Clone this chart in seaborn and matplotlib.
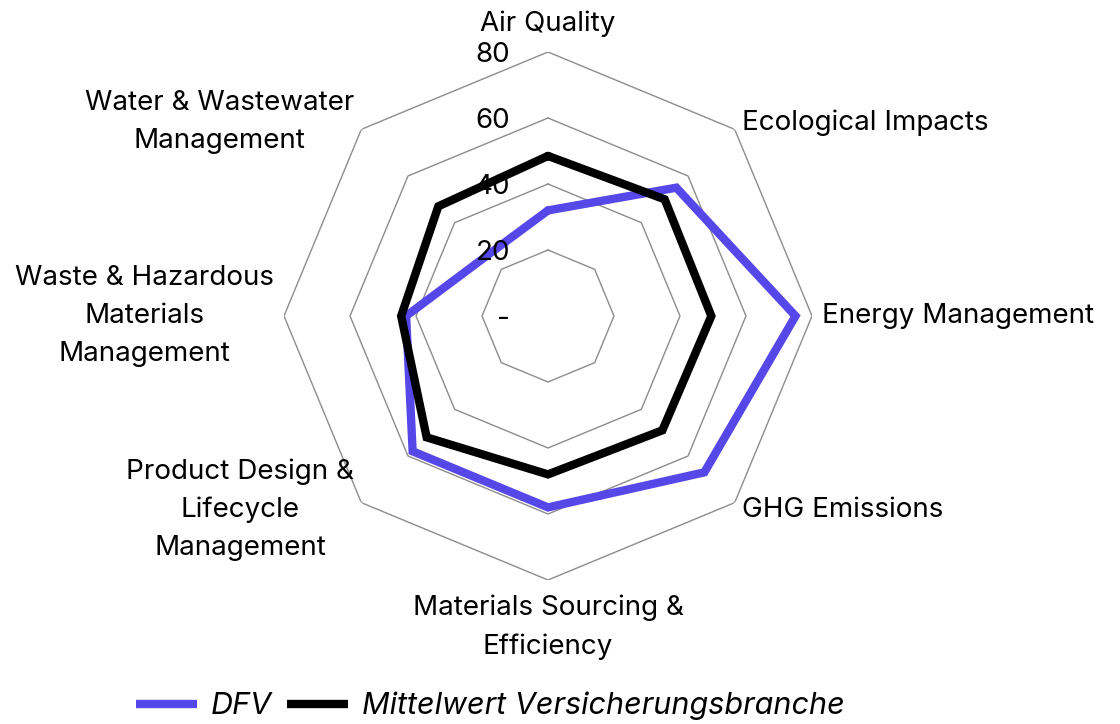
import numpy as np
import pandas as pd
import seaborn as sns
import matplotlib
matplotlib.use("Agg")
import matplotlib.pyplot as plt
from matplotlib.lines import Line2D
from matplotlib.transforms import ScaledTranslation

categories = ["Air Quality", "Ecological Impacts", "Energy Management", "GHG Emissions",
              "Materials Sourcing &\nEfficiency", "Product Design &\nLifecycle\nManagement",
              "Waste & Hazardous\nMaterials\nManagement", "Water & Wastewater\nManagement"]
dfv = [32, 55, 75, 67, 58, 58, 43, 26]
mittelwert = [48.5, 50, 49.5, 49, 48, 52, 44.5, 47]
series_names = ["DFV", "Mittelwert Versicherungsbranche"]
ring_values = [20, 40, 60, 80]
tick_values = [0, 20, 40, 60, 80]
tick_labels = ["-", "20", "40", "60", "80"]

BLUE = "#5647E8"
BLACK = "#000000"

sns.set_theme(style="white")
plt.rcParams["font.family"] = ["Inter", "DejaVu Sans"]
plt.rcParams["text.color"] = "black"

n = len(categories)
angles = np.linspace(0, 2 * np.pi, n, endpoint=False)
angles_closed = np.append(angles, 2 * np.pi)

rows = []
for name, vals in zip(series_names, [dfv, mittelwert]):
    for a, v in zip(angles_closed, vals + vals[:1]):
        rows.append({"angle": a, "value": v, "series": name})
df = pd.DataFrame(rows)

fig = plt.figure(figsize=(11.2, 7.24), dpi=100)
R = 264
cx, cy = 548, 724 - 316
ax = fig.add_axes([(cx - R) / 1120, (cy - R) / 724, 2 * R / 1120, 2 * R / 724], projection="polar")
ax.set_theta_offset(np.pi / 2)
ax.set_theta_direction(-1)
ax.grid(False)
ax.spines["polar"].set_visible(False)
ax.set_xticks([])
ax.set_yticks([])
ax.patch.set_alpha(0)

for r in ring_values:
    ax.plot(angles_closed, [r] * len(angles_closed), color="#8c8c8c", lw=1, zorder=1)

sns.lineplot(data=df, x="angle", y="value", hue="series", hue_order=series_names,
             palette=[BLUE, BLACK], sort=False, estimator=None, linewidth=6,
             legend=False, ax=ax, solid_joinstyle="miter", zorder=3)
ax.set_ylim(0, 80)
ax.set_xlabel("")
ax.set_ylabel("")

FS = 20
LS = 1.6
for a, lab in zip(angles, categories):
    deg = np.degrees(a) % 360
    if np.isclose(deg, 0):
        ax.text(a, 84.5, lab, ha="center", va="bottom", fontsize=FS, clip_on=False)
    elif np.isclose(deg, 180):
        ax.text(a, 84.5, lab, ha="center", va="top", fontsize=FS, clip_on=False,
                multialignment="center", linespacing=LS)
    elif deg < 180:
        ax.text(a, 83, lab, ha="left", va="center", fontsize=FS, clip_on=False,
                multialignment="center", linespacing=LS)
    else:
        ax.text(a, 83, lab, ha="right", va="center", fontsize=FS, clip_on=False,
                multialignment="center", linespacing=LS)

off = ax.transData + ScaledTranslation(-38 / 100, -3 / 100, fig.dpi_scale_trans)
for v, t in zip(tick_values, tick_labels):
    ax.text(0, v, t, ha="right", va="center", fontsize=FS, transform=off, clip_on=False)

handles = [Line2D([], [], color=BLUE, lw=6, solid_capstyle="butt"),
           Line2D([], [], color=BLACK, lw=6, solid_capstyle="butt")]
fig.legend(handles=handles, labels=series_names, loc="center",
           bbox_to_anchor=(490 / 1120, 18 / 724), ncol=2, frameon=False,
           prop={"style": "italic", "size": 22}, handlelength=2.0,
           handletextpad=0.45, columnspacing=0.5)

fig.savefig("out.png", dpi=100)
